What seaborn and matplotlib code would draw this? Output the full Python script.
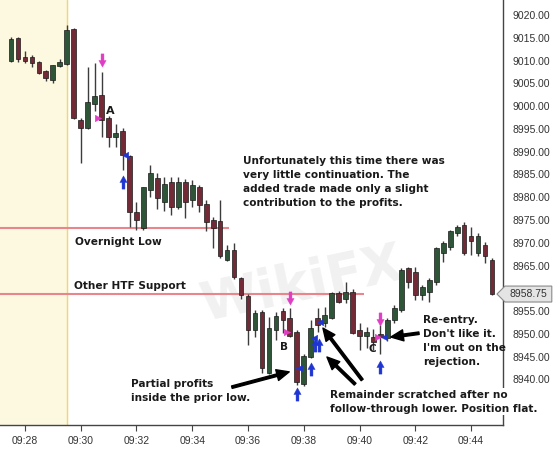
import numpy as np
import pandas as pd
import matplotlib
matplotlib.use("Agg")
import matplotlib.pyplot as plt
import matplotlib.transforms as mtransforms
from matplotlib.path import Path
from matplotlib.patches import Polygon
from matplotlib.ticker import FuncFormatter
import seaborn as sns

# 15 second bars
opens = [9010, 9015, 9010.75, 9010.75, 9009.75, 9007.75, 9005.75, 9008.75, 9009.25, 9017,
         8997, 8995.25, 9000.5, 9002.5, 8997.5, 8993.25, 8994.5, 8989, 8976.75, 8973.25,
         8981.5, 8984.25, 8979, 8983.25, 8977.75, 8983.25, 8979.5, 8982.25, 8978.5, 8975,
         8974.75, 8966.25, 8968.5, 8962.25, 8958.25, 8950.75, 8954.75, 8941.5, 8950.75, 8955,
         8953.5, 8950.5, 8939, 8945, 8953.5, 8952.5, 8953.5, 8959, 8957.75, 8959.25,
         8950.75, 8949.5, 8949.25, 8950, 8949, 8953, 8955.25, 8964.5, 8963.5, 8958.5,
         8959.25, 8961.5, 8967.75, 8969, 8972.25, 8974, 8971.5, 8967.75, 8969.5, 8966.25]
highs = [9015.25, 9015.25, 9012, 9011.25, 9010, 9008, 9009, 9010.25, 9017.75, 9017.25,
         8997.5, 9008.5, 9009.5, 9007.5, 8997.75, 8996, 8995.25, 8989.25, 8979, 8982.25,
         8987, 8985.25, 8984.5, 8984.5, 8984.5, 8984, 8983.75, 8982.75, 8979.5, 8975.75,
         8979.5, 8969.5, 8970, 8962.5, 8958.75, 8955.25, 8955.25, 8953.75, 8954.75, 8955.75,
         8955.75, 8950.75, 8945.5, 8953, 8955.75, 8956, 8959.25, 8959.5, 8961.5, 8959.75,
         8952.5, 8951.5, 8951, 8952, 8953.5, 8956.25, 8964.5, 8964.75, 8964.75, 8960.75,
         8962.25, 8969, 8970.5, 8972.75, 8974, 8974.5, 8973.5, 8972.25, 8970.25, 8966.75]
lows = [9009.75, 9009.75, 9009.5, 9008.5, 9007, 9005.5, 9005, 9008.5, 9009, 8997.25,
        8987.5, 8995, 8999, 8993.25, 8991, 8991, 8986, 8973.5, 8972.75, 8972.75,
        8980, 8977.5, 8977, 8976, 8977.5, 8975.5, 8977.75, 8976.75, 8972.5, 8968.75,
        8966.75, 8966, 8962, 8957.75, 8947.5, 8949.25, 8941.5, 8941.25, 8948.75, 8950.25,
        8949.25, 8938.75, 8938.5, 8944.75, 8950.5, 8951.5, 8953.25, 8956.75, 8956.75, 8950,
        8946.5, 8947, 8946.5, 8945.5, 8948.5, 8952.5, 8954.75, 8960, 8957.5, 8957.5,
        8957, 8960.75, 8965.75, 8968.5, 8971.5, 8967.25, 8967.25, 8967, 8965.5, 8958.5]
closes = [9014.75, 9010.25, 9010, 9009.5, 9007.25, 9006.25, 9009, 9009.75, 9016.75, 8997.5,
          8995.25, 9001, 9002.25, 8997, 8993.25, 8994, 8989.25, 8976.75, 8975, 8982.25,
          8985.25, 8979.75, 8983, 8977.75, 8983.25, 8979, 8982.75, 8978.25, 8974.5, 8973.25,
          8967, 8968.5, 8962.5, 8958.5, 8950.75, 8954.5, 8942.5, 8951.25, 8954, 8953,
          8949.5, 8939.5, 8945.25, 8951.25, 8952, 8954.25, 8959, 8957, 8959.25, 8950.25,
          8949.5, 8950.5, 8948.25, 8949.25, 8953, 8955.75, 8964, 8961.5, 8958.5, 8960.25,
          8961.75, 8968.75, 8970, 8972.5, 8973.5, 8967.75, 8970.5, 8971.5, 8967, 8958.75]

# reference levels
level_names = ["Overnight Low", "Other HTF Support"]
level_prices = [8973.25, 8958.75]
level_ends = ["09:35:20", "09:40:10"]

# trade marks: bar index and price
sell_arrow_bar = [13, 40, 53]
sell_arrow_px = [9010.1, 8957.9, 8953.3]
sell_entry_bar = [12.5, 39.6, 52.6]
sell_entry_px = [8997.4, 8950.4, 8949.3]
cover_arrow_bar = [16, 41, 43, 43.6, 44.2, 53]
cover_arrow_px = [8983.3, 8936.8, 8942.3, 8947.6, 8947.6, 8942.7]
cover_exit_bar = [16.3, 41.3, 43.4, 44.3, 53.5]
cover_exit_px = [8989.3, 8942.5, 8949.1, 8952.6, 8949.3]

last_price = 8958.75
session_open = "09:29:30"
# labels hidden behind the price tag and the note box
hidden_ticks = [8935, 8960]

sns.set_theme(style="ticks")
plt.rcParams["font.family"] = ["Liberation Sans", "DejaVu Sans"]

opens, highs, lows, closes = map(np.array, (opens, highs, lows, closes))
times = pd.date_range("2020-01-02 09:27:30", periods=len(opens), freq="15s")


def to_min(ts):
    ts = pd.Timestamp(ts)
    return ts.hour * 60 + ts.minute + ts.second / 60 - 540


x = np.array([to_min(t) for t in times])
bar_min = 0.25


def bar_x(b):
    return x[0] + np.asarray(b) * bar_min


fig = plt.figure(figsize=(5.57, 4.55), dpi=100)
ax = fig.add_axes([0, 30 / 455, 503 / 557, 425 / 455])

# pre-open shading
t_open = to_min("2020-01-02 " + session_open)
ax.axvspan(x[0] - 1, t_open, color="#fdf8e0", zorder=0)
ax.axvline(t_open, color="#f0d86a", lw=1, zorder=0.5)

# watermark
ax.text(0.6, 0.33, "WikiFX", transform=ax.transAxes, fontsize=38, fontweight="bold",
        family="DejaVu Sans", color="#e4e4e4", alpha=0.5, rotation=12,
        ha="center", va="center", zorder=0.6)

# levels
for name, p, end in zip(level_names, level_prices, level_ends):
    ax.hlines(p, x[0] - 1, to_min("2020-01-02 " + end), color="#e8868c", lw=1.5, zorder=1)

# candles
up = closes >= opens
body = np.maximum(np.abs(closes - opens), 0.4)
low_body = np.minimum(opens, closes)
ax.vlines(x, lows, highs, color="#3c3c3c", lw=1, zorder=2)
ax.bar(x[up], body[up], bottom=low_body[up], width=0.17, color="#2e5537",
       edgecolor="#1a1a1a", lw=0.5, zorder=3)
ax.bar(x[~up], body[~up], bottom=low_body[~up], width=0.17, color="#722a36",
       edgecolor="#1a1a1a", lw=0.5, zorder=3)

# fat arrow markers
down_path = Path([(-0.22, 1.0), (0.22, 1.0), (0.22, 0.0), (0.55, 0.0), (0.0, -1.0),
                  (-0.55, 0.0), (-0.22, 0.0), (-0.22, 1.0)],
                 [Path.MOVETO] + [Path.LINETO] * 6 + [Path.CLOSEPOLY])
up_path = Path(down_path.vertices * [1, -1], down_path.codes)

magenta = "#e03cc4"
blue = "#1f35d2"
sns.scatterplot(x=bar_x(sell_arrow_bar), y=sell_arrow_px, marker=down_path, s=90,
                color=magenta, edgecolor=magenta, linewidth=0.3, ax=ax, zorder=6)
sns.scatterplot(x=bar_x(sell_entry_bar), y=sell_entry_px, marker=">", s=22,
                color=magenta, edgecolor=magenta, linewidth=0.3, ax=ax, zorder=6)
sns.scatterplot(x=bar_x(cover_arrow_bar), y=cover_arrow_px, marker=up_path, s=90,
                color=blue, edgecolor=blue, linewidth=0.3, ax=ax, zorder=6)
sns.scatterplot(x=bar_x(cover_exit_bar), y=cover_exit_px, marker="<", s=22,
                color=blue, edgecolor=blue, linewidth=0.3, ax=ax, zorder=6)

# axes
ax.set_xlim(x[0] - 0.394, x[-1] + 0.394)
ax.set_ylim(8930.0, 9023.3)
ax.set_xticks(np.arange(28, 45, 2))
ax.set_xticklabels([f"09:{m:02d}" for m in range(28, 45, 2)])
ax.set_yticks(np.arange(8935, 9021, 5))
ax.yaxis.set_major_formatter(
    FuncFormatter(lambda v, pos: "" if round(v) in hidden_ticks else f"{v:.2f}"))
ax.yaxis.tick_right()
ax.tick_params(axis="both", direction="out", length=4, width=0.8, color="#444",
               labelsize=7.5, labelcolor="#333", pad=3)
ax.tick_params(axis="x", bottom=True, pad=4)
ax.set_xlabel("")
ax.set_ylabel("")
sns.despine(ax=ax, left=True, top=True, right=False)
for side in ("right", "bottom"):
    ax.spines[side].set_color("#444")
    ax.spines[side].set_linewidth(1)
ax.set_facecolor("white")

# last price tag
tr = mtransforms.blended_transform_factory(ax.transAxes, ax.transData)
h = 1.75
tag = Polygon([(0.988, last_price), (1.004, last_price + h), (1.097, last_price + h),
               (1.097, last_price - h), (1.004, last_price - h)], closed=True,
              transform=tr, facecolor="#e4e4e4", edgecolor="#8a8a8a", lw=0.8,
              clip_on=False, zorder=8)
ax.add_patch(tag)
ax.text(1.051, last_price, f"{last_price:.2f}", transform=tr, ha="center", va="center",
        fontsize=7.5, color="#333", clip_on=False, zorder=9)

# notes
note = dict(family="DejaVu Sans", fontweight="bold", fontsize=7.6, color="#1a1a1a",
            transform=ax.transAxes, ha="left", va="center", linespacing=1.5)
ax.text(0.483, 0.572, "Unfortunately this time there was\nvery little continuation. The\n"
        "added trade made only a slight\ncontribution to the profits.", **note)
ax.text(0.149, 0.431, "Overnight Low", **note)
ax.text(0.147, 0.327, "Other HTF Support", **note)
ax.text(0.260, 0.081, "Partial profits\ninside the prior low.", **note)
ax.text(0.656, 0.055, "Remainder scratched after no\nfollow-through lower. Position flat.",
        bbox=dict(facecolor="white", edgecolor="none", pad=1.0), zorder=7, **note)
ax.text(0.841, 0.198, "Re-entry.\nDon't like it.\nI'm out on the\nrejection.", **note)
ax.text(0.219, 0.739, "A", **{**note, "fontsize": 8, "ha": "center"})
ax.text(0.565, 0.184, "B", **{**note, "fontsize": 7.5, "ha": "center"})
ax.text(0.740, 0.179, "C", **{**note, "fontsize": 7.5, "ha": "center"})

arrow = dict(arrowstyle="simple,head_width=0.8,head_length=0.9,tail_width=0.18",
             color="black", shrinkA=0, shrinkB=0, mutation_scale=10)
for tail, tip in [((0.461, 0.089), (0.575, 0.125)),
                  ((0.720, 0.106), (0.642, 0.228)),
                  ((0.706, 0.096), (0.650, 0.160)),
                  ((0.833, 0.216), (0.777, 0.207))]:
    ax.annotate("", xy=tip, xytext=tail, xycoords="axes fraction",
                textcoords="axes fraction", arrowprops=arrow, zorder=7)

fig.savefig("out.png", dpi=100)
